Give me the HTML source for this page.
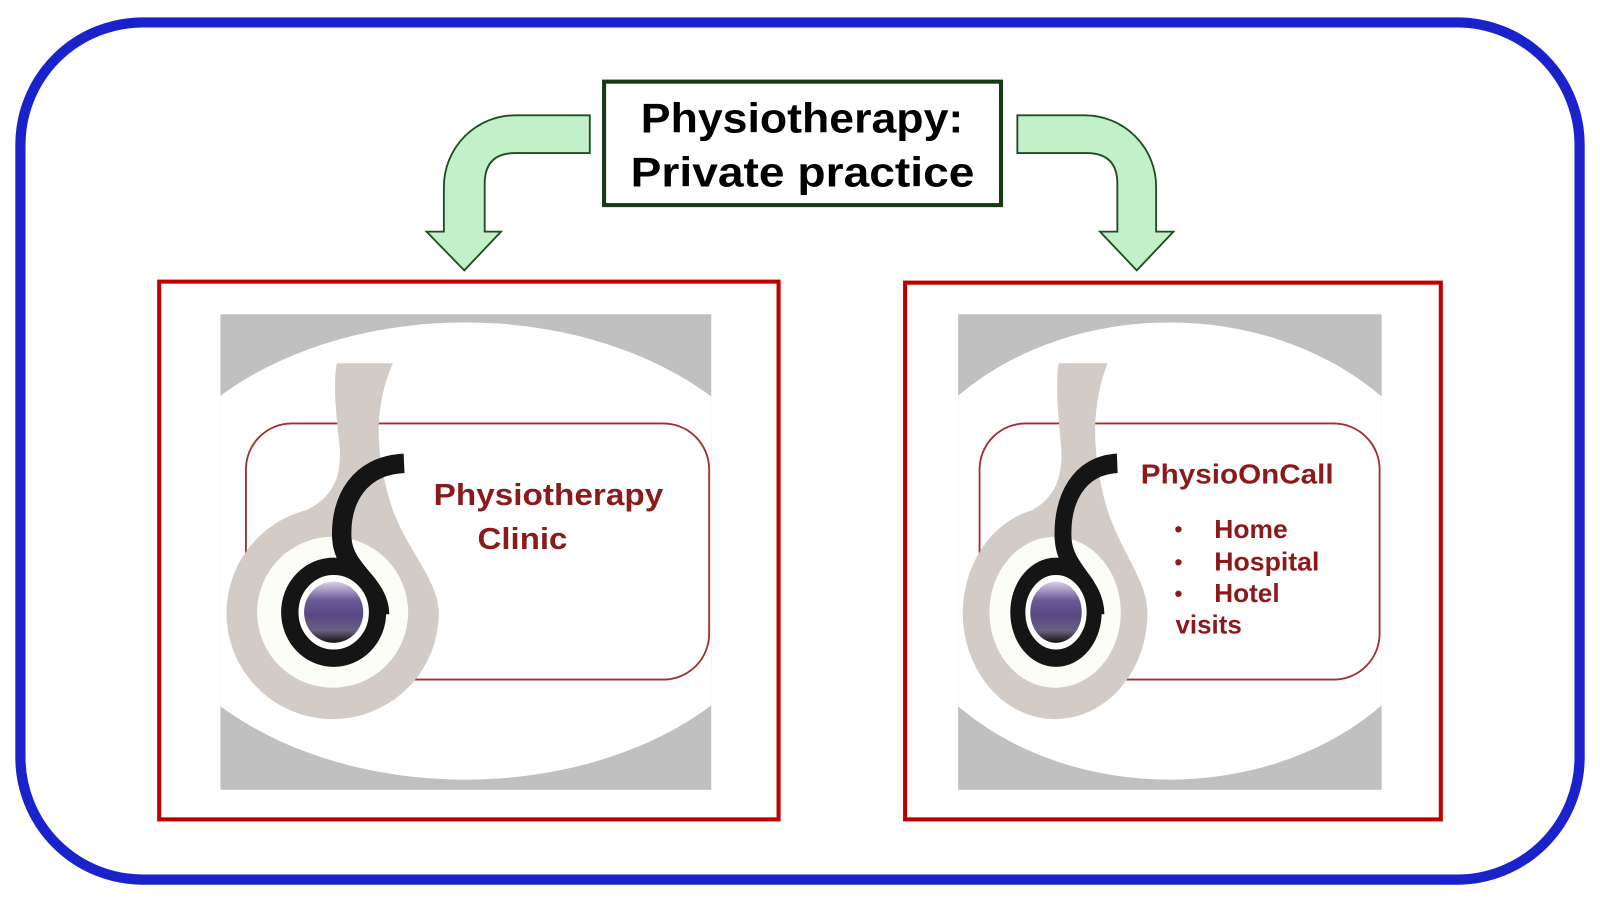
<!DOCTYPE html>
<html><head><meta charset="utf-8"><style>html,body{margin:0;padding:0;background:#fff}svg{display:block}</style></head>
<body>
<svg width="1600" height="900" viewBox="0 0 1568 882" preserveAspectRatio="none" xmlns="http://www.w3.org/2000/svg">
<defs>
<linearGradient id="pg" x1="0" y1="0" x2="0" y2="1">
<stop offset="0" stop-color="#d8d0ea"/><stop offset="0.3" stop-color="#6a5a98"/><stop offset="0.55" stop-color="#574784"/><stop offset="0.8" stop-color="#6a6080"/><stop offset="1" stop-color="#111"/>
</linearGradient>
<clipPath id="cl"><rect x="216" y="308" width="481" height="466"/></clipPath>
<clipPath id="cr"><rect x="939" y="308" width="415" height="466"/></clipPath>
<g id="logo">
<path d="M330,356 L385,356 C368,395 365,440 385,500 C400,540 430,570 430,600 A104,104 0 1 1 300,500 C320,490 335,475 333,440 C330,410 326,380 330,356 Z" fill="#d3cbc6"/>
<circle cx="326" cy="600" r="74" fill="#fdfdf8"/>
<path d="M396,454 C352,456 333,490 335,528 C337,560 372,572 372,602" fill="none" stroke="#151515" stroke-width="19"/>
<ellipse cx="327" cy="600" rx="43" ry="45" fill="#fff" stroke="#151515" stroke-width="17"/>
<ellipse cx="327" cy="600" rx="29" ry="30" fill="url(#pg)"/>
</g>
</defs>
<rect x="20" y="22" width="1528" height="840" rx="120" fill="#fff" stroke="#1a22cc" stroke-width="10"/>

<path d="M578,113 L505,113 A70,70 0 0 0 435,183 L435,227 L418,227 L455,265 L491,227 L475,227 L475,180 Q475,150 505,150 L578,150 Z" fill="#c2f0c8" stroke="#1f4d1f" stroke-width="1.8"/>
<path d="M997,113 L1063,113 A70,70 0 0 1 1133,183 L1133,227 L1150,227 L1114,265 L1078,227 L1095,227 L1095,180 Q1095,150 1065,150 L997,150 Z" fill="#c2f0c8" stroke="#1f4d1f" stroke-width="1.8"/>

<rect x="592" y="80" width="389" height="121" fill="#fff" stroke="#163a16" stroke-width="4"/>
<g font-family="Liberation Sans, sans-serif" font-weight="bold" fill="#000" font-size="41">
<text x="628" y="130" textLength="316" lengthAdjust="spacingAndGlyphs">Physiotherapy:</text>
<text x="618" y="183" textLength="337" lengthAdjust="spacingAndGlyphs">Private practice</text>
</g>

<rect x="156" y="276" width="607" height="527" fill="#fff" stroke="#c00000" stroke-width="4"/>
<rect x="216" y="308" width="481" height="466" fill="#c0c0c0"/>
<ellipse cx="456" cy="540" rx="327" ry="224" fill="#fff" clip-path="url(#cl)"/>
<rect x="241" y="415" width="454" height="251" rx="45" fill="none" stroke="#a33030" stroke-width="1.8"/>
<use href="#logo"/>
<g font-family="Liberation Sans, sans-serif" font-weight="bold" fill="#8b1a1a">
<text x="425" y="495" font-size="30" textLength="225" lengthAdjust="spacingAndGlyphs">Physiotherapy</text>
<text x="468" y="538" font-size="30" textLength="88" lengthAdjust="spacingAndGlyphs">Clinic</text>
</g>

<rect x="887" y="277" width="525" height="526" fill="#fff" stroke="#c00000" stroke-width="4"/>
<rect x="939" y="308" width="415" height="466" fill="#c0c0c0"/>
<ellipse cx="1146" cy="540" rx="282" ry="224" fill="#fff" clip-path="url(#cr)"/>
<rect x="960" y="415" width="392" height="251" rx="45" fill="none" stroke="#a33030" stroke-width="1.8"/>
<use href="#logo" transform="translate(1034,0) scale(0.87,1) translate(-326,0)"/>
<g font-family="Liberation Sans, sans-serif" font-weight="bold" fill="#8b1a1a">
<text x="1118" y="474" font-size="27" textLength="189" lengthAdjust="spacingAndGlyphs">PhysioOnCall</text>
<text x="1151" y="526" font-size="22">•</text>
<text x="1190" y="527" font-size="25" textLength="72" lengthAdjust="spacingAndGlyphs">Home</text>
<text x="1151" y="558" font-size="22">•</text>
<text x="1190" y="559" font-size="25" textLength="103" lengthAdjust="spacingAndGlyphs">Hospital</text>
<text x="1151" y="589" font-size="22">•</text>
<text x="1190" y="590" font-size="25" textLength="64" lengthAdjust="spacingAndGlyphs">Hotel</text>
<text x="1152" y="621" font-size="25" textLength="65" lengthAdjust="spacingAndGlyphs">visits</text>
</g>
</svg>
</body></html>
